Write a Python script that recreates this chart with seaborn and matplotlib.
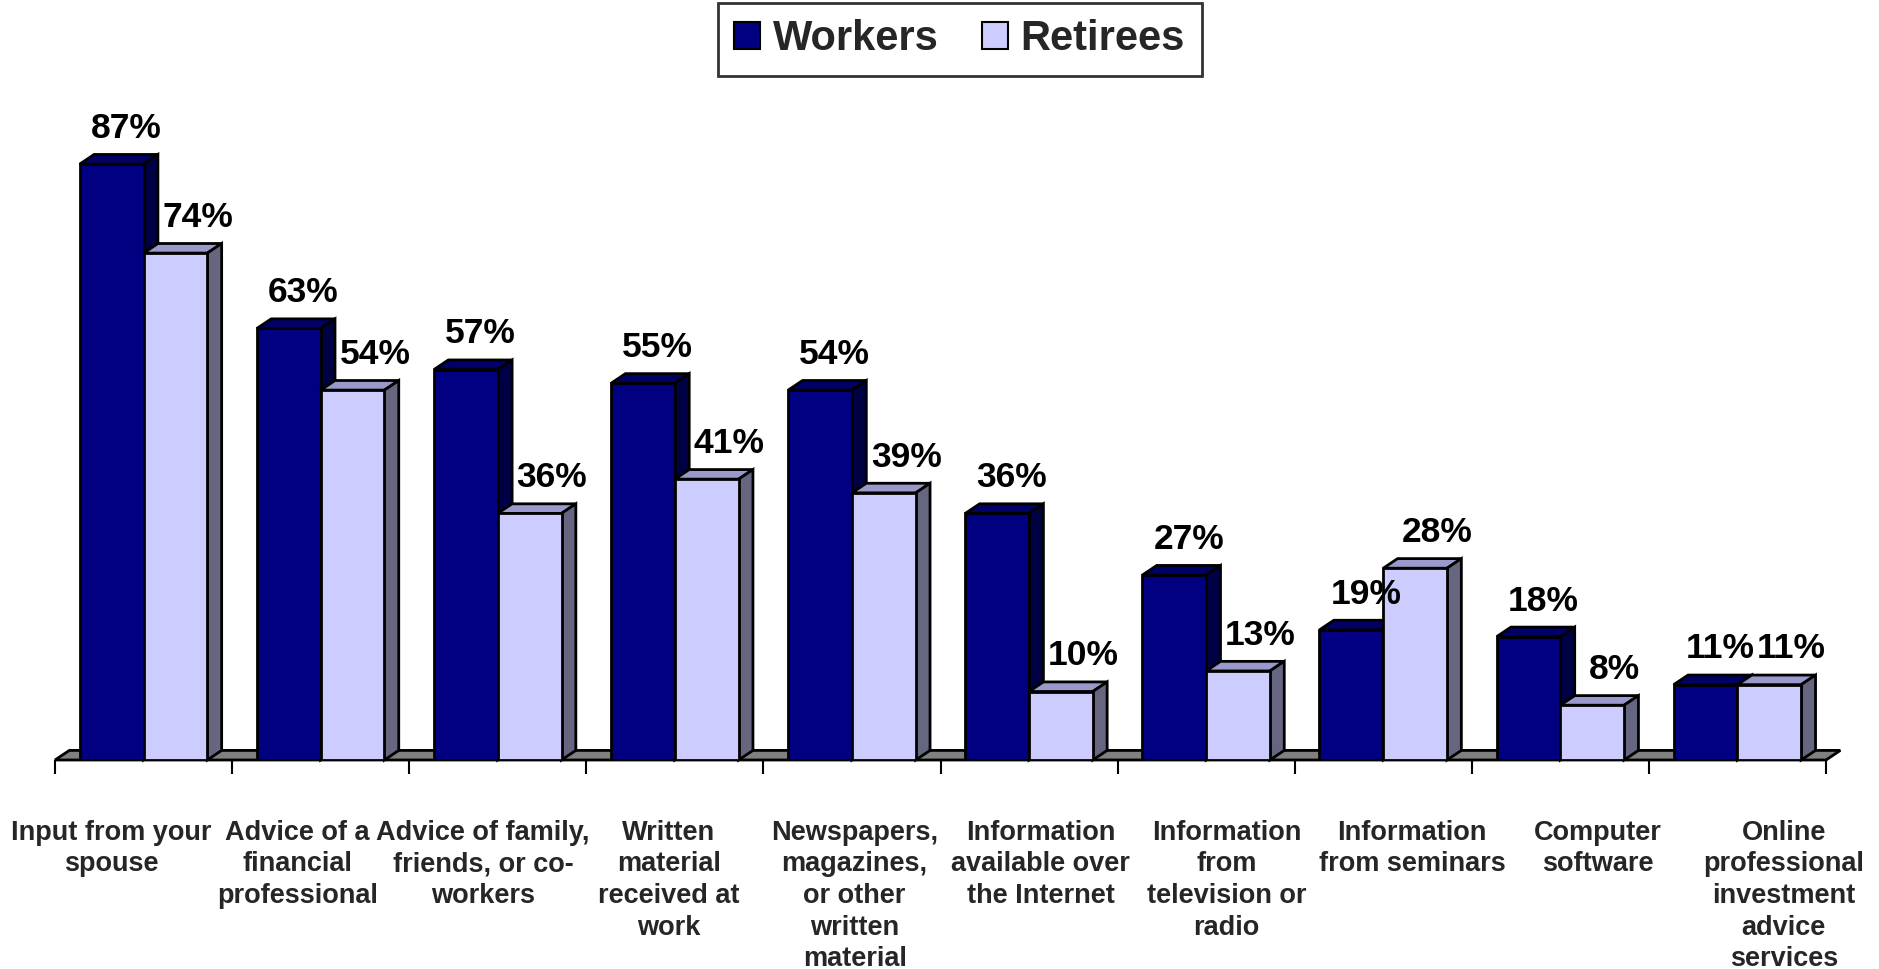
import matplotlib
matplotlib.use("Agg")
import matplotlib.pyplot as plt
from matplotlib.patches import Polygon, Patch
import seaborn as sns
import pandas as pd

categories = [
    "Input from your\nspouse",
    "Advice of a\nfinancial\nprofessional",
    "Advice of family,\nfriends, or co-\nworkers",
    "Written\nmaterial\nreceived at\nwork",
    "Newspapers,\nmagazines,\nor other\nwritten\nmaterial",
    "Information\navailable over\nthe Internet",
    "Information\nfrom\ntelevision or\nradio",
    "Information\nfrom seminars",
    "Computer\nsoftware",
    "Online\nprofessional\ninvestment\nadvice\nservices",
]
workers = [87, 63, 57, 55, 54, 36, 27, 19, 18, 11]
retirees = [74, 54, 36, 41, 39, 10, 13, 28, 8, 11]
groups = ["Workers", "Retirees"]

front_colors = {"Workers": "#000080", "Retirees": "#CCCCFF"}
top_colors = {"Workers": "#000066", "Retirees": "#9999CC"}
side_colors = {"Workers": "#000044", "Retirees": "#666680"}

df = pd.DataFrame({
    "source": categories * 2,
    "pct": workers + retirees,
    "group": ["Workers"] * len(categories) + ["Retirees"] * len(categories),
})

sns.set_style("white")
plt.rcParams["font.family"] = ["Liberation Sans", "DejaVu Sans"]
plt.rcParams["font.weight"] = "bold"

fig = plt.figure(figsize=(18.79, 9.69), dpi=100)
ax = fig.add_axes([55 / 1879, 1 - 760 / 969, (1826 - 55) / 1879, 685 / 969])

sns.barplot(data=df, x="source", y="pct", hue="group", hue_order=groups,
            palette=[front_colors[g] for g in groups], saturation=1,
            width=0.72, edgecolor="black", linewidth=2, legend=False, ax=ax)

n = len(categories)
ax.set_xlim(-0.5, n - 0.5)
ax.set_ylim(0, 100)

# oblique depth of the 3-D extrusion (x in category units, y in percent)
dx, dy = 0.081, 1.4
# horizontal nudge of the value labels per series
label_shift = {"Workers": 0.0, "Retirees": 0.045}

# floor slab
floor = Polygon([(-0.5, 0), (n - 0.5, 0), (n - 0.5 + dx, dy), (-0.5 + dx, dy)],
                closed=True, facecolor="#808080", edgecolor="black",
                linewidth=2, zorder=1, clip_on=False)
ax.add_patch(floor)

for gi, (g, cont) in enumerate(zip(groups, ax.containers)):
    base_z = 3 + 2 * gi
    for bar in cont.patches:
        bar.set_zorder(base_z + 0.5)
        x0 = bar.get_x()
        w = bar.get_width()
        h = bar.get_height()
        x1 = x0 + w
        top = Polygon([(x0, h), (x1, h), (x1 + dx, h + dy), (x0 + dx, h + dy)],
                      closed=True, facecolor=top_colors[g], edgecolor="black",
                      linewidth=2, zorder=base_z, clip_on=False)
        side = Polygon([(x1, 0), (x1, h), (x1 + dx, h + dy), (x1 + dx, dy)],
                       closed=True, facecolor=side_colors[g], edgecolor="black",
                       linewidth=2, zorder=base_z, clip_on=False)
        ax.add_patch(top)
        ax.add_patch(side)
        ax.text(x0 + w / 2 + dx + label_shift[g], h + dy + 1.4,
                f"{int(round(h))}%", ha="center", va="bottom", fontsize=25.5,
                fontweight="bold", color="black", zorder=10, clip_on=False)

for s in ax.spines.values():
    s.set_visible(False)

ax.set_xlabel("")
ax.set_ylabel("")
ax.set_yticks([])
ax.set_xticks([i - 0.5 for i in range(n + 1)], [""] * (n + 1))
# category captions are spread slightly wider than the bar groups
label_pos = [i + 0.0493 * (i - (n - 1) / 2) + 0.04 for i in range(n)]
ax.set_xticks(label_pos, categories, minor=True)
ax.tick_params(axis="x", which="major", direction="out", length=10,
               width=1.5, color="black", bottom=True)
ax.tick_params(axis="x", which="minor", length=0, pad=43, labelsize=19.5)
for lbl in ax.get_xticklabels(minor=True):
    lbl.set_fontweight("bold")
    lbl.set_multialignment("center")
    lbl.set_linespacing(1.28)

handles = [Patch(facecolor=front_colors[g], edgecolor="black", linewidth=1.5)
           for g in groups]
leg = fig.legend(handles, groups, loc="center", bbox_to_anchor=(0.5107, 0.9595),
                 ncol=2, frameon=True, fancybox=False,
                 prop={"weight": "bold", "size": 30},
                 handlelength=0.62, handleheight=0.62, handletextpad=0.3,
                 columnspacing=1.05, borderpad=0.4)
leg.get_frame().set_edgecolor("black")
leg.get_frame().set_linewidth(2)

fig.savefig("out.png", dpi=100)
